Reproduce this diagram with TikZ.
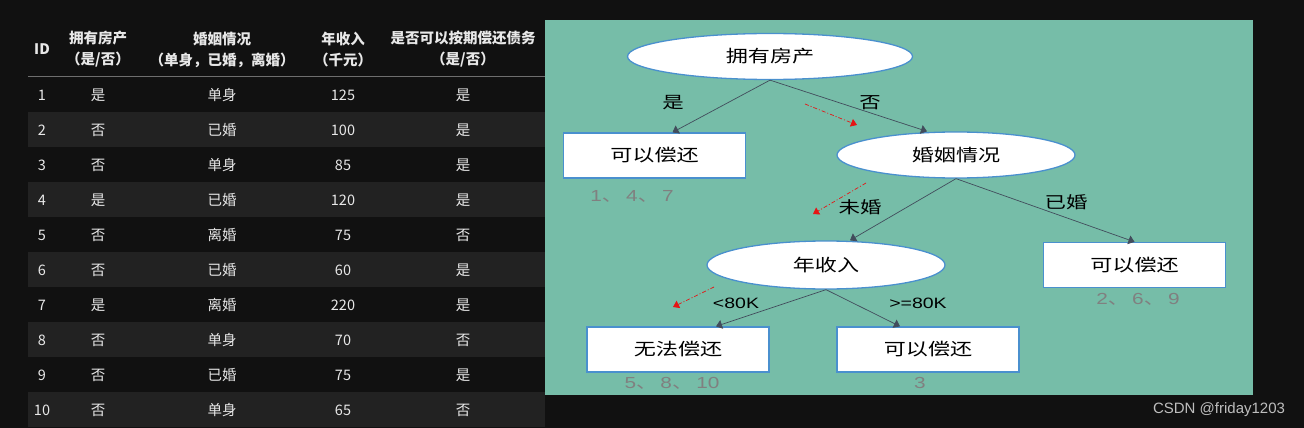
\documentclass[tikz,border=0pt]{standalone}
\usepackage{fontspec}
\setmainfont{Noto Sans CJK SC}
\newfontfamily\arialfont{Liberation Sans}
\usepackage{graphicx}
\usetikzlibrary{shapes.geometric, arrows.meta}
\definecolor{pagedark}{RGB}{17, 17, 17}
\definecolor{rowgray}{RGB}{34, 34, 34}
\definecolor{rulegray}{RGB}{110, 110, 110}
\definecolor{celltext}{RGB}{232, 232, 232}
\definecolor{treegreen}{RGB}{118, 189, 168}
\definecolor{nodeblue}{RGB}{74, 144, 206}
\definecolor{edgegray}{RGB}{66, 76, 92}
\definecolor{countgray}{RGB}{128, 128, 128}
\definecolor{hintred}{RGB}{230, 20, 20}
\definecolor{markgray}{RGB}{190, 190, 190}
\newcommand{\wide}[1]{\scalebox{1.3}[1]{#1}}

\begin{document}
\begin{tikzpicture}[x=1pt, y=-1pt,
  head/.style={text=celltext, align=center, font=\fontsize{14.5}{21}\selectfont\bfseries},
  cell/.style={text=celltext, font=\fontsize{14.5}{14.5}\selectfont},
  question/.style={ellipse, draw=nodeblue, fill=white, line width=1.3pt, minimum width=238pt, minimum height=46pt, inner sep=0pt, font=\fontsize{17}{17}\selectfont},
  leaf/.style={rectangle, draw=nodeblue, fill=white, line width=1.3pt, minimum width=182pt, minimum height=45pt, inner sep=0pt, font=\fontsize{17}{17}\selectfont},
  branch/.style={draw=edgegray, line width=0.7pt, -{Triangle[width=9pt, length=6pt]}},
  edgelabel/.style={text=black, font=\fontsize{16.5}{16.5}\selectfont},
  count/.style={text=countgray, font=\arialfont\fontsize{16}{16}\selectfont},
  hint/.style={draw=hintred, line width=0.7pt, dash pattern=on 4pt off 2pt on 1pt off 2pt, -{Triangle[width=8pt, length=6pt]}}]

  \useasboundingbox (0,0) rectangle (1304,428);
  \fill[pagedark] (0,0) rectangle (1304,428);

  % table
  \foreach \i in {2,4,6,8,10}
    \fill[rowgray] (28,{77+35*(\i-1)}) rectangle (545,{77+35*\i});
  \draw[rulegray, line width=0.8pt] (28,76) -- (545,76);

  \node[head] (hid) at (42,49.5) {ID};
  \node[head] (hhouse) at (98,49.5) {拥有房产\\（是/否）};
  \node[head] (hmarry) at (222,49.5) {婚姻情况\\（单身，已婚，离婚）};
  \node[head] (hincome) at (343,49.5) {年收入\\（千元）};
  \node[head] (hrepay) at (463,49.5) {是否可以按期偿还债务\\（是/否）};

  \foreach \i/\house/\marry/\income/\repay in {
      1/是/单身/125/是, 2/否/已婚/100/是, 3/否/单身/85/是, 4/是/已婚/120/是,
      5/否/离婚/75/否, 6/否/已婚/60/是, 7/是/离婚/220/是, 8/否/单身/70/否,
      9/否/已婚/75/是, 10/否/单身/65/否} {
    \node[cell] (id\i) at (42,{95+35*(\i-1)}) {\i};
    \node[cell] (house\i) at (98,{95+35*(\i-1)}) {\house};
    \node[cell] (marry\i) at (222,{95+35*(\i-1)}) {\marry};
    \node[cell] (income\i) at (343,{95+35*(\i-1)}) {\income};
    \node[cell] (repay\i) at (463,{95+35*(\i-1)}) {\repay};
  }

  % decision tree
  \fill[treegreen] (545,20) rectangle (1253,395);

  \node[question, minimum width=285pt] (root) at (770,56.5) {\wide{拥有房产}};
  \node[leaf] (leafA) at (654.5,155.5) {\wide{可以偿还}};
  \node[question] (marital) at (956,155) {\wide{婚姻情况}};
  \node[question, minimum height=48pt] (annual) at (826,265) {\wide{年收入}};
  \node[leaf] (leafB) at (1134.5,265) {\wide{可以偿还}};
  \node[leaf] (leafC) at (678,349.5) {\wide{无法偿还}};
  \node[leaf] (leafD) at (928,349.5) {\wide{可以偿还}};

  \draw[branch] (root.south) -- ([xshift=18pt]leafA.north);
  \draw[branch] (root.south) -- ([xshift=-29pt]marital.north);
  \draw[branch] (marital.south) -- ([xshift=24pt]annual.north);
  \draw[branch] (marital.south) -- (leafB.north);
  \draw[branch] (annual.south) -- ([xshift=38pt]leafC.north);
  \draw[branch] (annual.south) -- ([xshift=-28pt]leafD.north);

  \node[edgelabel] (yes) at (673,103) {\wide{是}};
  \node[edgelabel] (no) at (870,103) {\wide{否}};
  \node[edgelabel] (single) at (860,207) {\wide{未婚}};
  \node[edgelabel] (married) at (1066,202) {\wide{已婚}};
  \node[edgelabel, font=\arialfont\fontsize{15}{15}\selectfont] (low) at (736,303) {\wide{<80K}};
  \node[edgelabel, font=\arialfont\fontsize{15}{15}\selectfont] (high) at (918,303) {\wide{>=80K}};

  \node[count] (countA) at (632,196) {\wide{1{\rmfamily 、}\,4{\rmfamily 、}\,7}};
  \node[count] (countB) at (1138,299) {\wide{2{\rmfamily 、}\,6{\rmfamily 、}\,9}};
  \node[count] (countC) at (672,383) {\wide{5{\rmfamily 、}\,8{\rmfamily 、}\,10}};
  \node[count] (countD) at (920,383) {\wide{3}};

  % red hints
  \coordinate (hintAs) at (805,104);
  \coordinate (hintAe) at (857,125);
  \coordinate (hintBs) at (866,183);
  \coordinate (hintBe) at (813,214);
  \coordinate (hintCs) at (714,287);
  \coordinate (hintCe) at (673,307);
  \draw[hint] (hintAs) -- (hintAe);
  \draw[hint] (hintBs) -- (hintBe);
  \draw[hint] (hintCs) -- (hintCe);

  \node[text=markgray, font=\arialfont\fontsize{15}{15}\selectfont] (mark) at (1219,410) {CSDN @friday1203};
\end{tikzpicture}
\end{document}
